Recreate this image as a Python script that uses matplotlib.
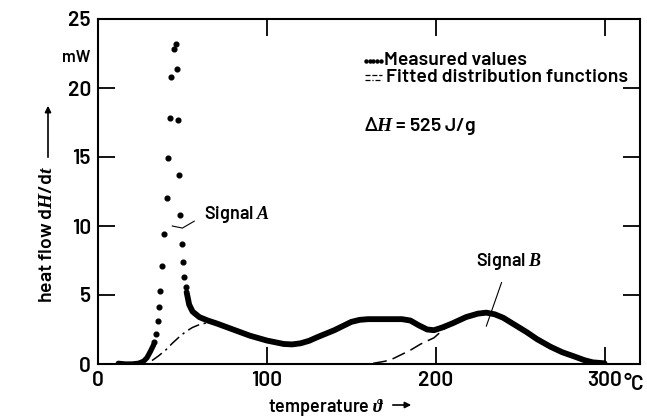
import numpy as np
import matplotlib
matplotlib.use("Agg")
import matplotlib.pyplot as plt

plt.rcParams['font.family'] = ['Barlow', 'DejaVu Sans']
plt.rcParams['font.weight'] = 600
plt.rcParams['mathtext.fontset'] = 'custom'
plt.rcParams['mathtext.rm'] = 'Barlow:semibold'
plt.rcParams['mathtext.it'] = 'Liberation Serif:italic'

# measured values, sparse dots around signal A peak (deg C, mW)
peak_x = [33.4, 34.4, 35.4, 36.2, 36.9, 38.1, 39.3, 40.7, 41.5, 42.7, 43.4, 45.0, 46.1,
          46.8, 47.4, 48.2, 48.6, 49.8, 50.6, 51.2, 52.0]
peak_y = [1.6, 2.2, 3.1, 4.1, 5.3, 7.1, 9.4, 12.0, 14.9, 17.8, 20.8, 22.8, 23.2,
          21.4, 17.7, 13.7, 10.8, 8.7, 7.4, 6.3, 5.6]

# measured values, dense parts (drawn as thick band)
base_x = [12, 16, 20, 24, 27, 29, 31, 33]
base_y = [0.05, 0.0, 0.0, 0.05, 0.2, 0.45, 0.9, 1.4]

band_x = [52.5, 54, 56, 60, 65, 70, 80, 90, 100, 110, 115, 120, 125, 130, 140, 150, 155,
          160, 170, 180, 185, 190, 195, 199, 204, 210, 218, 225, 230, 235, 240, 246, 254,
          260, 268, 275, 282, 288, 293, 300]
band_y = [5.2, 4.3, 3.8, 3.4, 3.15, 2.95, 2.5, 2.05, 1.7, 1.45, 1.42, 1.5, 1.68, 1.95, 2.45,
          3.05, 3.2, 3.25, 3.25, 3.25, 3.15, 2.8, 2.5, 2.45, 2.65, 2.95, 3.4, 3.65, 3.72,
          3.6, 3.35, 2.9, 2.3, 1.8, 1.25, 0.85, 0.55, 0.28, 0.12, 0.05]

# fitted distribution functions
fitA_x = [32, 36, 40, 44, 48, 52, 56, 60, 65, 70]
fitA_y = [0.25, 0.6, 1.0, 1.5, 1.95, 2.35, 2.65, 2.85, 3.0, 3.0]
fitB_x = [163, 170, 175, 180, 185, 191, 199, 204.5, 210, 218, 225]
fitB_y = [0.05, 0.2, 0.4, 0.7, 1.0, 1.44, 1.9, 2.5, 2.9, 3.4, 3.65]

xticks = [0, 100, 200, 300]
yticks = [0, 5, 10, 15, 20, 25]

fig = plt.figure(figsize=(6.47, 4.2), dpi=100)
ax = fig.add_axes([98/647, 1-364/420, 542/647, 345/420])

ax.plot(base_x, base_y, color='black', lw=3.8, solid_capstyle='round', zorder=3)
ax.plot(band_x, band_y, color='black', lw=4.2, solid_capstyle='round', zorder=3)
ax.plot(peak_x, peak_y, 'o', color='black', ms=3.4, zorder=4)
ax.plot(fitA_x, fitA_y, color='black', lw=1.1, dashes=[8, 3, 1.5, 3], zorder=2)
ax.plot(fitB_x, fitB_y, color='black', lw=1.1, dashes=[9, 4], zorder=2)

# labels with leader lines
ax.plot([44, 50, 57], [10.0, 9.85, 10.35], color='black', lw=0.8)
ax.text(63, 10.8, 'Signal $A$', fontsize=13, va='center', ha='left')
ax.plot([239, 230], [5.9, 2.75], color='black', lw=0.8)
ax.text(243.6, 7.4, 'Signal $B$', fontsize=13, va='center', ha='center')

# legend
ax.plot(np.linspace(0.494, 0.522, 5), [0.878]*5, 'o', color='black', ms=2.2,
        transform=ax.transAxes, clip_on=False)
ax.text(0.528, 0.879, 'Measured values', fontsize=14, va='center', ha='left',
        transform=ax.transAxes)
ax.plot([0.493, 0.524], [0.838, 0.838], color='black', lw=0.9, dashes=[4, 1.5],
        transform=ax.transAxes)
ax.plot([0.493, 0.524], [0.823, 0.823], color='black', lw=0.9, dashes=[4, 1.5, 1, 1.5],
        transform=ax.transAxes)
ax.text(0.531, 0.829, 'Fitted distribution functions', fontsize=14, va='center',
        ha='left', transform=ax.transAxes)
ax.text(0.491, 0.69, r'$\Delta H$ = 525 J/g', fontsize=14, va='center', ha='left',
        transform=ax.transAxes)

ax.set_xlim(0, 321)
ax.set_ylim(0, 25)
ax.set_xticks(xticks)
ax.set_yticks(yticks)
ax.set_xticklabels([str(v) for v in xticks], fontsize=15)
ax.set_yticklabels([str(v) for v in yticks], fontsize=15)
ax.tick_params(direction='in', length=12, width=1.3, top=True, right=True, pad=5)
for s in ax.spines.values():
    s.set_linewidth(1.5)

# axis labels and arrows
fig.text(623/647, 1-385/420, '°C', fontsize=15, va='center', ha='left')
fig.text(76/647, 1-57/420, 'mW', fontsize=12, va='center', ha='center')
fig.text(48/647, 1-234/420, r'heat flow d$H$/d$t$', fontsize=14, rotation=90,
         va='center', ha='center')
fig.text(268/647, 1-407/420, r'temperature $\vartheta$', fontsize=13, va='center',
         ha='left')
ax.annotate('', xy=(48/647, 1-103/420), xytext=(48/647, 1-160/420),
            xycoords='figure fraction',
            arrowprops=dict(arrowstyle='-|>', color='black', lw=1.2, mutation_scale=9))
ax.annotate('', xy=(414/647, 1-405/420), xytext=(390/647, 1-405/420),
            xycoords='figure fraction',
            arrowprops=dict(arrowstyle='-|>', color='black', lw=1.2, mutation_scale=9))

fig.savefig('out.png', dpi=100)
